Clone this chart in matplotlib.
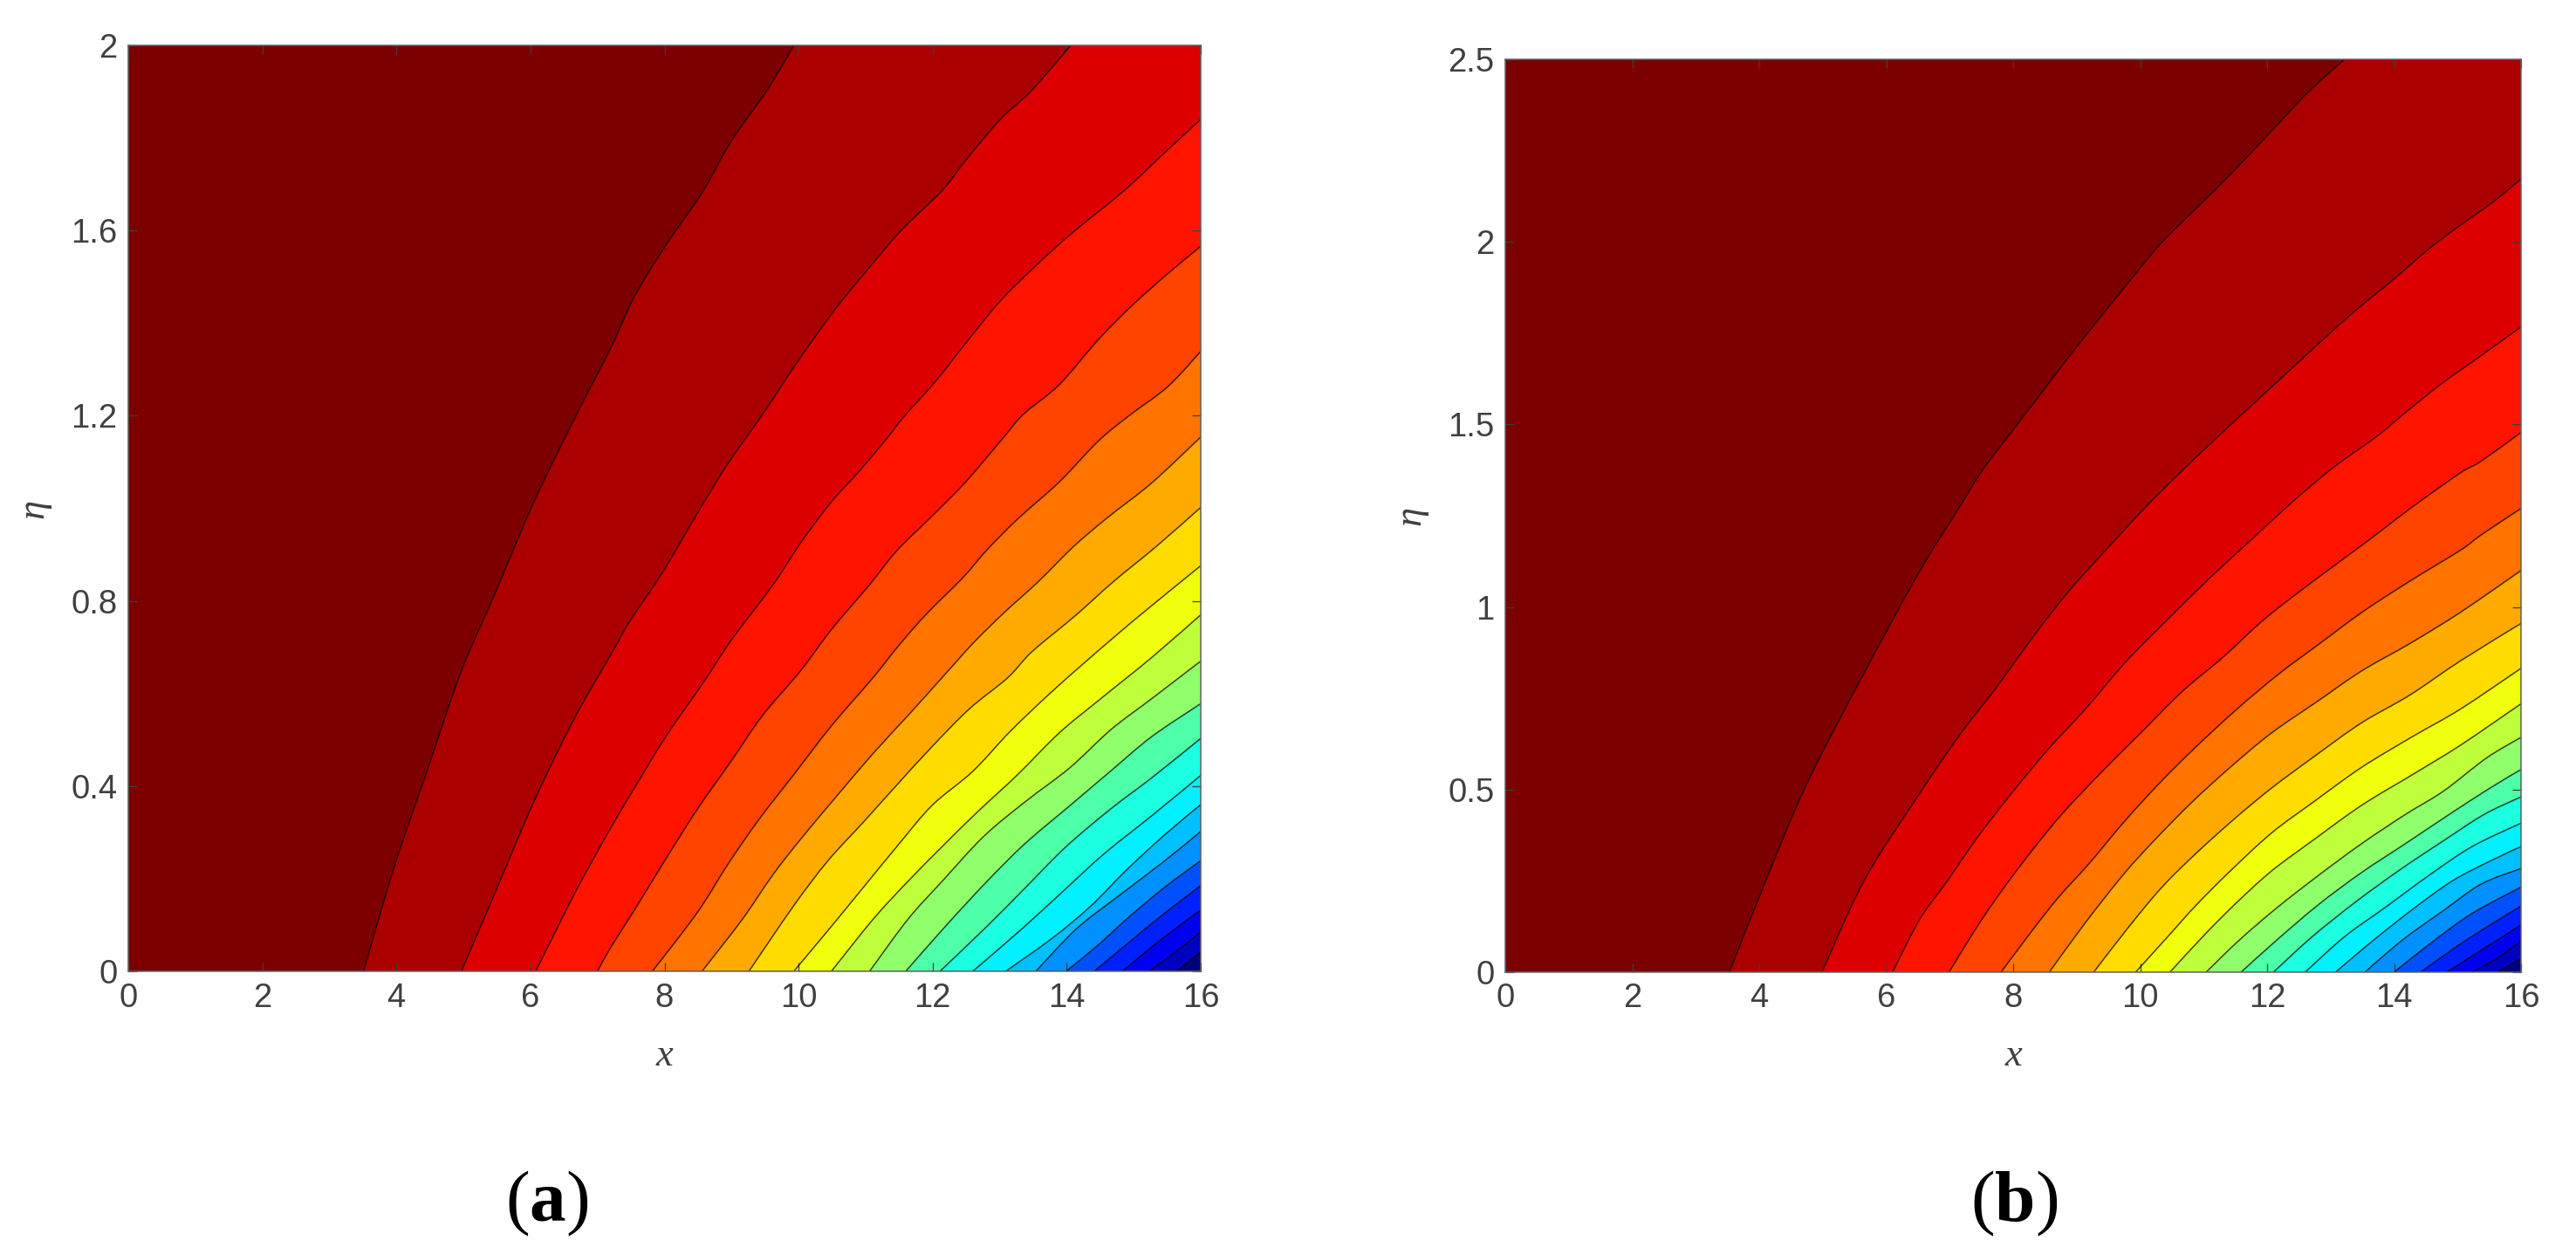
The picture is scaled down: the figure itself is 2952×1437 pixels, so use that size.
import matplotlib
matplotlib.use("Agg")
import matplotlib.pyplot as plt
from matplotlib.path import Path
from matplotlib.patches import PathPatch

plt.rcParams['mathtext.fontset'] = 'custom'
plt.rcParams['mathtext.bf'] = 'Liberation Serif:bold'
plt.rcParams['mathtext.rm'] = 'Liberation Serif'

# contour lines, each from the bottom edge to the right/top edge
a_x = [
    [3.51, 3.98, 4.47, 4.96, 5.45, 6.06, 6.67, 7.2, 7.55, 8.01, 8.57, 9.0, 9.53, 9.93],
    [4.97, 5.45, 6.06, 6.67, 7.2, 7.49, 7.96, 8.51, 8.94, 9.53, 9.93, 10.51, 10.98, 11.53, 12.14, 12.49, 13.01, 13.48, 14.06],
    [6.08, 6.67, 7.2, 7.61, 8.02, 8.59, 9.0, 9.62, 10.03, 10.49, 10.91, 11.34, 11.56, 12.03, 12.49, 13.01, 13.54, 14.06, 14.87, 15.46, 16],
    [7.0, 7.2, 7.56, 7.97, 8.49, 9.0, 9.46, 10.03, 10.49, 11.06, 11.47, 12.04, 12.5, 13.07, 13.36, 13.89, 14.47, 14.99, 15.51, 16],
    [7.82, 8.49, 8.95, 9.41, 9.93, 10.49, 11.11, 11.52, 11.93, 12.45, 12.81, 13.27, 13.89, 14.47, 14.93, 15.51, 16],
    [8.56, 9.16, 9.62, 10.03, 10.55, 11.11, 11.63, 12.14, 12.6, 13.07, 13.58, 14.1, 14.61, 15.27, 16],
    [9.26, 9.93, 10.44, 10.96, 11.47, 11.99, 12.55, 13.12, 13.48, 14.12, 14.7, 15.34, 16],
    [9.93, 10.49, 10.96, 11.47, 11.99, 12.6, 13.17, 13.84, 14.66, 15.27, 16],
    [10.49, 11.11, 11.63, 12.14, 12.66, 13.27, 13.89, 14.51, 15.27, 16],
    [11.06, 11.63, 12.14, 12.76, 13.38, 14.05, 14.66, 15.27, 16],
    [11.6, 12.19, 12.81, 13.38, 14.05, 14.66, 15.27, 16],
    [12.11, 12.81, 13.38, 13.99, 14.66, 15.27, 16],
    [12.6, 13.32, 13.94, 14.56, 15.27, 16],
    [13.09, 13.79, 14.36, 14.88, 15.44, 16],
    [13.54, 14.14, 14.75, 15.44, 16],
    [13.99, 14.44, 14.92, 15.44, 16],
    [14.41, 15.01, 15.44, 16],
    [14.83, 15.44, 16],
    [15.23, 15.62, 16],
    [15.64, 16],
]
a_eta = [
    [0, .231, .438, .645, .809, 1.016, 1.197, 1.347, 1.457, 1.566, 1.684, 1.794, 1.903, 2.0],
    [0, .162, .369, .55, .684, .758, .859, .994, 1.095, 1.217, 1.305, 1.423, 1.507, 1.6, 1.686, 1.751, 1.84, 1.903, 2.0],
    [0, .171, .31, .41, .507, .626, .716, .835, .925, 1.014, 1.081, 1.155, 1.196, 1.272, 1.356, 1.448, 1.524, 1.592, 1.688, 1.768, 1.84],
    [0, .052, .134, .231, .35, .455, .552, .649, .738, .835, .909, .99, 1.058, 1.155, 1.204, 1.267, 1.364, 1.44, 1.507, 1.566],
    [0, .127, .232, .328, .425, .53, .634, .708, .775, .85, .91, .977, 1.057, 1.145, 1.2, 1.263, 1.339],
    [0, .112, .209, .285, .375, .47, .552, .634, .708, .775, .842, .917, .98, 1.055, 1.154],
    [0, .142, .239, .321, .403, .485, .567, .634, .69, .767, .842, .918, 1.002],
    [0, .097, .18, .27, .358, .432, .52, .612, .716, .79, .876],
    [0, .112, .194, .269, .343, .425, .515, .589, .678, .77],
    [0, .112, .194, .291, .366, .44, .522, .589, .67],
    [0, .097, .194, .276, .358, .433, .507, .578],
    [0, .097, .18, .269, .351, .418, .503],
    [0, .09, .172, .254, .336, .423],
    [0, .072, .141, .217, .292, .36],
    [0, .091, .16, .236, .302],
    [0, .053, .116, .179, .239],
    [0, .072, .123, .185],
    [0, .072, .132],
    [0, .041, .085],
    [0, .041],
]

b_x = [
    [3.53, 4.11, 4.75, 5.66, 6.53, 7.07, 7.51, 7.92, 8.37, 8.98, 9.72, 10.33, 10.95, 11.44, 12.11, 12.66, 13.22],
    [4.99, 5.66, 6.53, 7.18, 7.73, 8.32, 8.87, 9.46, 10.06, 10.66, 11.23, 11.93, 12.66, 13.34, 14.01, 14.51, 14.99, 15.55, 16],
    [6.1, 6.53, 6.96, 7.45, 8.0, 8.54, 9.14, 9.79, 10.44, 11.1, 11.75, 12.4, 13.05, 13.73, 14.14, 14.75, 15.36, 16],
    [6.99, 7.51, 8.05, 8.7, 9.36, 10.01, 10.66, 11.31, 11.96, 12.73, 13.54, 14.25, 15.05, 15.36, 16],
    [7.81, 8.27, 8.7, 9.19, 9.74, 10.28, 10.88, 11.53, 12.18, 12.83, 13.49, 14.25, 15.05, 15.36, 16],
    [8.57, 9.14, 9.74, 10.23, 10.82, 11.42, 12.07, 12.78, 13.49, 14.25, 15.05, 16],
    [9.27, 9.79, 10.33, 10.88, 11.48, 12.07, 12.73, 13.49, 14.25, 15.05, 16],
    [9.93, 10.44, 10.88, 11.42, 12.07, 12.73, 13.49, 14.3, 15.05, 16],
    [10.47, 11.04, 11.53, 12.07, 12.73, 13.49, 14.3, 15.05, 16],
    [11.04, 11.57, 12.16, 12.81, 13.49, 14.18, 14.78, 15.46, 16],
    [11.59, 12.16, 12.81, 13.49, 14.18, 14.87, 15.51, 16],
    [12.1, 12.71, 13.4, 14.09, 14.78, 15.42, 16],
    [12.6, 13.22, 13.86, 14.55, 15.23, 16],
    [13.08, 13.63, 14.27, 14.91, 15.51, 16],
    [13.54, 14.14, 14.78, 15.37, 16],
    [14.0, 14.59, 15.23, 16],
    [14.42, 15.01, 15.51, 16],
    [14.83, 15.42, 16],
    [15.23, 15.65, 16],
    [15.62, 16],
]
b_eta = [
    [0, .253, .516, .822, 1.099, 1.25, 1.373, 1.4675, 1.569, 1.708, 1.868, 1.996, 2.103, 2.188, 2.311, 2.412, 2.5],
    [0, .253, .49, .655, .778, .92, 1.042, 1.156, 1.269, 1.373, 1.4675, 1.58, 1.697, 1.804, 1.9, 1.975, 2.039, 2.108, 2.172],
    [0, .145, .249, .372, .495, .608, .721, .853, .967, 1.08, 1.184, 1.288, 1.383, 1.4675, 1.527, 1.612, 1.687, 1.767],
    [0, .145, .277, .419, .542, .655, .768, .863, .967, 1.071, 1.175, 1.269, 1.368, 1.398, 1.478],
    [0, .107, .202, .296, .41, .513, .617, .721, .816, .9, .985, 1.071, 1.156, 1.196, 1.27],
    [0, .136, .268, .362, .466, .561, .655, .74, .825, .9, .986, 1.10],
    [0, .117, .23, .325, .419, .504, .589, .683, .759, .853, .955],
    [0, .098, .183, .277, .381, .466, .561, .646, .721, .832],
    [0, .107, .192, .277, .362, .457, .542, .622, .735],
    [0, .089, .177, .265, .352, .432, .496, .587, .643],
    [0, .089, .185, .273, .352, .432, .504, .555],
    [0, .097, .193, .28, .36, .432, .48],
    [0, .097, .177, .265, .344, .408],
    [0, .081, .169, .249, .304, .344],
    [0, .089, .169, .241, .284],
    [0, .081, .161, .233],
    [0, .073, .129, .181],
    [0, .065, .129],
    [0, .041, .085],
    [0, .037],
]

band_colors = ['#7d0000', '#ab0000', '#dc0000', '#ff1400', '#ff4400', '#ff7300', '#ffaa00',
               '#ffdc00', '#f0ff0c', '#bfff3c', '#8fff6c', '#4dffa8', '#1cffe0', '#00f0ff',
               '#00c0ff', '#0090ff', '#0050ff', '#0020ff', '#0000f0', '#0000c0', '#00007f']

x_ticks = [0, 2, 4, 6, 8, 10, 12, 14, 16]
a_yticks = [0, 0.4, 0.8, 1.2, 1.6, 2]
a_ylabels = ['0', '0.4', '0.8', '1.2', '1.6', '2']
b_yticks = [0, 0.5, 1, 1.5, 2, 2.5]
b_ylabels = ['0', '0.5', '1', '1.5', '2', '2.5']

W, H = 2952, 1437
fig = plt.figure(figsize=(W / 100, H / 100), dpi=100)
fig.patch.set_facecolor('white')


def curve_through(x, y):
    # bezier segments through the read points, so the lines don't look angular
    verts = [(x[0], y[0])]
    codes = [Path.MOVETO]
    n = len(x)
    for i in range(n - 1):
        x0, y0 = x[max(i - 1, 0)], y[max(i - 1, 0)]
        x3, y3 = x[min(i + 2, n - 1)], y[min(i + 2, n - 1)]
        verts.append((x[i] + (x[i + 1] - x0) / 6, y[i] + (y[i + 1] - y0) / 6))
        verts.append((x[i + 1] - (x3 - x[i]) / 6, y[i + 1] - (y3 - y[i]) / 6))
        verts.append((x[i + 1], y[i + 1]))
        codes += [Path.CURVE4, Path.CURVE4, Path.CURVE4]
    return verts, codes


def add_panel(box, xs, etas, top, yticks, ylabels, ylab_x):
    left, right, upper, lower = box
    ax = fig.add_axes([left / W, 1 - lower / H, (right - left) / W, (lower - upper) / H])
    ax.set_facecolor(band_colors[0])
    for i in range(len(xs)):
        verts, codes = curve_through(xs[i], etas[i])
        area = Path(verts + [(16, etas[i][-1]), (16, 0), (xs[i][0], 0)],
                    codes + [Path.LINETO, Path.LINETO, Path.CLOSEPOLY])
        ax.add_patch(PathPatch(area, facecolor=band_colors[i + 1], edgecolor='none', lw=0, zorder=1 + i * 0.01))
    for i in range(len(xs)):
        verts, codes = curve_through(xs[i], etas[i])
        ax.add_patch(PathPatch(Path(verts, codes), facecolor='none', edgecolor='black', lw=1.1,
                               alpha=0.72, zorder=2))
    ax.set_xlim(0, 16)
    ax.set_ylim(0, top)
    ax.set_xticks(x_ticks)
    ax.set_yticks(yticks)
    ax.set_yticklabels(ylabels)
    ax.tick_params(direction='in', top=True, right=True, length=7, width=0.9, color='#404040',
                   labelcolor='#404040', labelsize=27.5, pad=9)
    for lab in ax.get_xticklabels() + ax.get_yticklabels():
        lab.set_fontfamily('Liberation Sans')
    for sp in ax.spines.values():
        sp.set_color('#606060')
        sp.set_linewidth(1.1)
    ax.set_xlabel('x', fontfamily='Liberation Serif', fontstyle='italic', fontsize=32, color='#404040')
    ax.xaxis.set_label_coords(0.5, (lower - 1190) / (lower - upper))
    ax.set_ylabel('η', fontfamily='Liberation Serif', fontstyle='italic', fontsize=32, color='#404040')
    ax.yaxis.set_label_coords((ylab_x - left) / (right - left), 0.5)
    return ax


add_panel((147, 1376, 52, 1113), a_x, a_eta, 2, a_yticks, a_ylabels, 58)
add_panel((1725, 2889, 68, 1114), b_x, b_eta, 2.5, b_yticks, b_ylabels, 1636)

for label, cx in [('a', 627), ('b', 2308)]:
    fig.text(cx / W, 1 - 1379 / H, '($\\mathbf{%s}$)' % label, fontfamily='Liberation Serif',
             fontsize=60, color='black', ha='center', va='center')

fig.savefig('out.png', dpi=100)
